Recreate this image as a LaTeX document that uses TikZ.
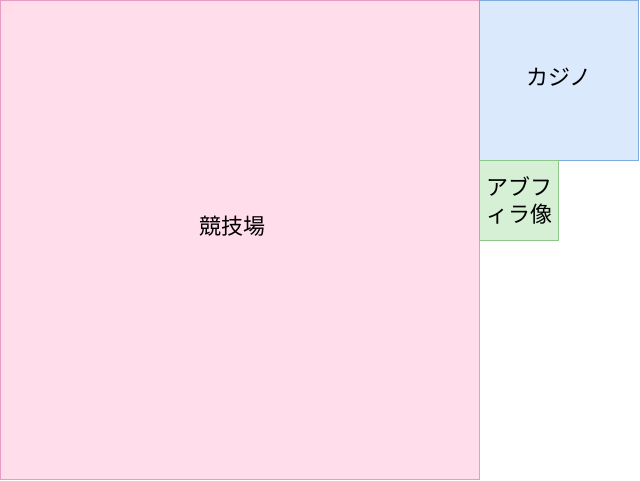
\documentclass[tikz,border=0pt]{standalone}
\usepackage{fontspec}
\setmainfont{Noto Sans CJK JP}
\definecolor{stadiumfill}{HTML}{FFDDEA}
\definecolor{stadiumline}{HTML}{E99BC2}
\definecolor{casinofill}{HTML}{DAEAFC}
\definecolor{casinoline}{HTML}{7EACE0}
\definecolor{statuefill}{HTML}{D5F0D4}
\definecolor{statueline}{HTML}{8CC789}
\tikzset{
  plot/.style={line width=1pt},
  label/.style={font=\fontsize{22}{27}\selectfont, align=center, inner sep=0pt}
}
\begin{document}
\begin{tikzpicture}[x=1pt, y=-1pt]
\useasboundingbox (0,0) rectangle (640,481);
\fill[white] (0,0) rectangle (640,481);
% areas
\draw[plot, fill=stadiumfill, draw=stadiumline] (0.5,0.5) rectangle (479.5,479.5);
\draw[plot, fill=casinofill, draw=casinoline] (479.5,0.5) rectangle (638.5,160.5);
\draw[plot, fill=statuefill, draw=statueline] (479.5,160.5) rectangle (558.5,240.5);
% names
\node[label] (stadium) at (232,226) {競技場};
\node[label] (casino) at (559,77) {カジノ};
\node[label] (statue) at (519,200) {アブフ\\ィラ像};
\end{tikzpicture}
\end{document}
